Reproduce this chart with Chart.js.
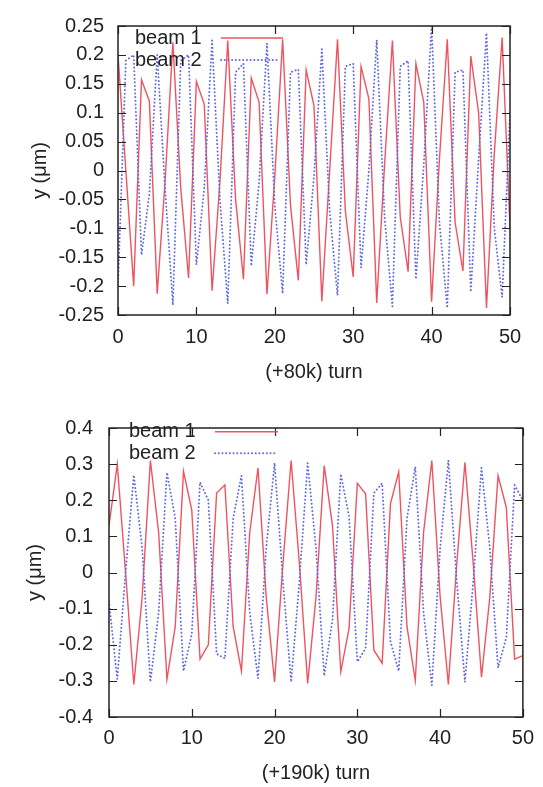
<!DOCTYPE html>
<html>
<head>
<meta charset="utf-8">
<script src="https://cdn.jsdelivr.net/npm/chart.js@4.4.0/dist/chart.umd.min.js"></script>
<style>
  html, body { margin: 0; padding: 0; background: #fff; }
  #wrap { position: relative; width: 543px; height: 787px; }
  canvas { position: absolute; left: 0; }
</style>
</head>
<body>
<div id="wrap">
  <canvas id="topChart" width="543" height="400" style="top:0"></canvas>
  <canvas id="bottomChart" width="543" height="387" style="top:400px"></canvas>
</div>
<script>
  // --- data ---
  const turns = [0, 1, 2, 3, 4, 5, 6, 7, 8, 9, 10, 11, 12, 13, 14, 15, 16, 17, 18, 19, 20,
    21, 22, 23, 24, 25, 26, 27, 28, 29, 30, 31, 32, 33, 34, 35, 36, 37, 38, 39, 40,
    41, 42, 43, 44, 45, 46, 47, 48, 49, 50];

  // upper panel, (+80k) turn
  const beam1Top = [0.20, 0.00, -0.20, 0.157, 0.12, -0.213, -0.02, 0.222, -0.03, -0.186,
    0.154, 0.115, -0.208, -0.02, 0.225, -0.05, -0.188, 0.16, 0.118, -0.214,
    -0.01, 0.227, -0.06, -0.19, 0.174, 0.112, -0.226, 0.0, 0.227, -0.07,
    -0.184, 0.18, 0.124, -0.229, 0.01, 0.225, -0.08, -0.175, 0.185, 0.118,
    -0.227, 0.02, 0.227, -0.09, -0.174, 0.198, 0.10, -0.238, 0.03, 0.23, -0.10];
  const beam2Top = [-0.20, 0.19, 0.20, -0.146, -0.04, 0.20, -0.03, -0.233, 0.19, 0.20,
    -0.163, -0.03, 0.225, -0.05, -0.23, 0.17, 0.185, -0.165, -0.02, 0.22,
    -0.06, -0.213, 0.17, 0.175, -0.163, -0.01, 0.21, -0.07, -0.216, 0.18,
    0.185, -0.168, 0.0, 0.226, -0.08, -0.235, 0.18, 0.19, -0.188, 0.01,
    0.25, -0.09, -0.238, 0.17, 0.174, -0.21, 0.02, 0.238, -0.10, -0.219, 0.10];

  // lower panel, (+190k) turn
  const beam1Bottom = [0.13, 0.30, 0.00, -0.31, -0.07, 0.31, 0.11, -0.296, -0.15, 0.28,
    0.173, -0.24, -0.20, 0.22, 0.242, -0.15, -0.273, 0.11, 0.29, -0.07,
    -0.303, 0.02, 0.31, 0.025, -0.307, -0.07, 0.296, 0.13, -0.275, -0.155,
    0.247, 0.218, -0.215, -0.251, 0.19, 0.279, -0.15, -0.299, 0.11, 0.31,
    -0.066, -0.31, 0.02, 0.305, 0.026, -0.29, -0.07, 0.268, 0.18, -0.24, -0.23];
  const beam2Bottom = [-0.08, -0.295, 0.0, 0.27, 0.07, -0.303, -0.11, 0.277, 0.15, -0.273,
    -0.17, 0.25, 0.20, -0.225, -0.238, 0.15, 0.268, -0.11, -0.293, 0.07,
    0.303, -0.02, -0.303, -0.025, 0.303, 0.07, -0.286, -0.13, 0.273, 0.155,
    -0.247, -0.21, 0.22, 0.247, -0.19, -0.273, 0.15, 0.292, -0.11, -0.312,
    0.066, 0.31, -0.02, -0.303, -0.026, 0.29, 0.07, -0.264, -0.18, 0.242, 0.20];

  const xTicks = [0, 10, 20, 30, 40, 50];
  const yTicksTop = [-0.25, -0.2, -0.15, -0.1, -0.05, 0, 0.05, 0.1, 0.15, 0.2, 0.25];
  const yTicksBottom = [-0.4, -0.3, -0.2, -0.1, 0, 0.1, 0.2, 0.3, 0.4];
  const seriesNames = ["beam 1", "beam 2"];

  const FONT = "'Liberation Sans', Arial, Helvetica, sans-serif";
  const INK = "#222";
  const RED = "rgb(238, 84, 96)";
  const BLUE = "rgb(96, 106, 222)";

  // gnuplot-like frame, inward ticks and key
  const framePlugin = {
    id: "frame",
    afterDatasetsDraw(chart, args, opts) {
      const { ctx, chartArea: a, scales: { x, y } } = chart;
      ctx.save();
      ctx.strokeStyle = INK;
      ctx.lineWidth = 1.5;
      ctx.strokeRect(a.left, a.top, a.right - a.left, a.bottom - a.top);

      ctx.lineWidth = 1.2;
      ctx.beginPath();
      y.ticks.forEach(t => {
        const py = Math.round(y.getPixelForValue(t.value)) + 0.5;
        ctx.moveTo(a.left, py); ctx.lineTo(a.left + 8, py);
        ctx.moveTo(a.right, py); ctx.lineTo(a.right - 8, py);
      });
      x.ticks.forEach(t => {
        const px = Math.round(x.getPixelForValue(t.value)) + 0.5;
        ctx.moveTo(px, a.bottom); ctx.lineTo(px, a.bottom - 8);
        ctx.moveTo(px, a.top); ctx.lineTo(px, a.top + 8);
      });
      ctx.stroke();

      // key: text then sample line
      const k = opts.key;
      ctx.font = "20px " + FONT;
      ctx.fillStyle = INK;
      ctx.textBaseline = "middle";
      ctx.textAlign = "left";
      chart.data.datasets.forEach((ds, i) => {
        const ky = k.y + i * k.gap;
        ctx.fillText(ds.label, k.textX, ky);
        ctx.strokeStyle = ds.borderColor;
        ctx.lineWidth = ds.borderWidth;
        ctx.lineCap = ds.borderCapStyle || "butt";
        ctx.setLineDash(ds.borderDash || []);
        ctx.beginPath();
        ctx.moveTo(k.x0, ky); ctx.lineTo(k.x1[i], ky);
        ctx.stroke();
      });
      ctx.restore();
    }
  };

  function makeChart(id, b1, b2, yTicks, yRange, xTitle, lay) {
    const pts = arr => arr.map((v, i) => ({ x: turns[i], y: v }));
    return new Chart(document.getElementById(id), {
      type: "line",
      data: {
        datasets: [
          { label: seriesNames[0], data: pts(b1), borderColor: RED, borderWidth: 1.4,
            pointRadius: 0, tension: 0, order: 2 },
          { label: seriesNames[1], data: pts(b2), borderColor: BLUE, borderWidth: 1.9,
            borderDash: [0.1, 3.6], borderCapStyle: "round",
            pointRadius: 0, tension: 0, order: 1 }
        ]
      },
      options: {
        responsive: false,
        animation: false,
        devicePixelRatio: 1,
        layout: { padding: { top: lay.padTop, right: lay.padRight, left: 0, bottom: 0 } },
        plugins: {
          legend: { display: false },
          tooltip: { enabled: false },
          frame: { key: lay.key }
        },
        scales: {
          x: {
            type: "linear",
            min: 0, max: 50,
            afterBuildTicks: s => { s.ticks = xTicks.map(v => ({ value: v })); },
            afterFit: s => { s.height = lay.xHeight; },
            grid: { display: false, drawTicks: false },
            border: { display: false },
            ticks: { color: INK, padding: lay.xTickPad, maxRotation: 0,
                     font: { family: FONT, size: 20 } },
            title: { display: true, text: xTitle, color: INK,
                     font: { family: FONT, size: 20 },
                     padding: { top: 0, bottom: lay.xTitlePad } }
          },
          y: {
            type: "linear",
            min: yRange[0], max: yRange[1],
            afterBuildTicks: s => { s.ticks = yTicks.map(v => ({ value: v })); },
            afterFit: s => { s.width = lay.yWidth; },
            grid: { display: false, drawTicks: false },
            border: { display: false },
            ticks: { color: INK, padding: lay.yTickPad,
                     font: { family: FONT, size: 20 },
                     callback: v => String(+v.toFixed(2)) },
            title: { display: true, text: "y (\u03bcm)", color: INK,
                     font: { family: FONT, size: 20 },
                     padding: { top: lay.yTitlePad, bottom: 0 } }
          }
        }
      },
      plugins: [framePlugin]
    });
  }

  makeChart("topChart", beam1Top, beam2Top, yTicksTop, [-0.25, 0.25], "(+80k) turn", {
    padTop: 18, padRight: 33, xHeight: 85, yWidth: 118,
    xTickPad: 10, xTitlePad: 16, yTickPad: 14, yTitlePad: 28,
    key: { textX: 135, x0: 221, x1: [283, 277], y: 38, gap: 22 }
  });

  makeChart("bottomChart", beam1Bottom, beam2Bottom, yTicksBottom, [-0.4, 0.4], "(+190k) turn", {
    padTop: 9, padRight: 16, xHeight: 70, yWidth: 109,
    xTickPad: 9, xTitlePad: 2, yTickPad: 16, yTitlePad: 23,
    key: { textX: 129, x0: 215, x1: [278, 275], y: 31.7, gap: 21.6 }
  });
</script>
</body>
</html>
